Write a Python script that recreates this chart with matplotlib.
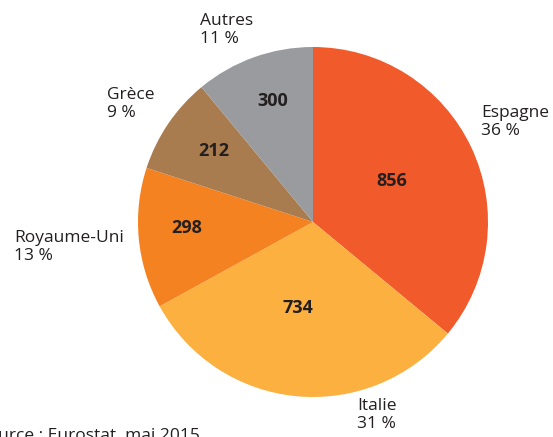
import matplotlib
matplotlib.use("Agg")
import matplotlib.pyplot as plt

# data
countries = ["Espagne", "Italie", "Royaume-Uni", "Grèce", "Autres"]
values = [856, 734, 298, 212, 300]
shares = [36, 31, 13, 9, 11]  # wedges follow the printed shares
pct_labels = ["36 %", "31 %", "13 %", "9 %", "11 %"]
colors = ["#F15A2B", "#FBB040", "#F58220", "#A97C50", "#9A9B9F"]

# label positions in pixels (top-left of text), figure is 553x437
name_pos = [(481, 105), (357, 398), (14, 230), (107, 87), (200, 13)]
num_pos = [(392, 181), (298, 308), (187, 228), (214, 151), (273, 101)]

W, H = 553, 437
fig = plt.figure(figsize=(W / 100, H / 100), dpi=100)
ax = fig.add_axes([0, 0, 1, 1])

ax.pie(shares, colors=colors, startangle=90, counterclock=False,
       center=(313, H - 222), radius=175,
       wedgeprops=dict(linewidth=0))
ax.set_xlim(0, W)
ax.set_ylim(0, H)
ax.set_aspect("equal")
ax.axis("off")

txt = "#231F20"
for name, pct, (x, y) in zip(countries, pct_labels, name_pos):
    ax.text(x, H - y, name + "\n" + pct, ha="left", va="top", fontsize=12.5,
            color=txt, family="Open Sans", linespacing=1.15)

for v, (x, y) in zip(values, num_pos):
    ax.text(x, H - y, str(v), ha="center", va="center", fontsize=13,
            fontweight="bold", color=txt, family="Open Sans")

ax.text(-22, H - 428, "Source : Eurostat, mai 2015", ha="left", va="top",
        fontsize=12.5, color=txt, family="Open Sans", clip_on=False)

fig.savefig("out.png", dpi=100)
